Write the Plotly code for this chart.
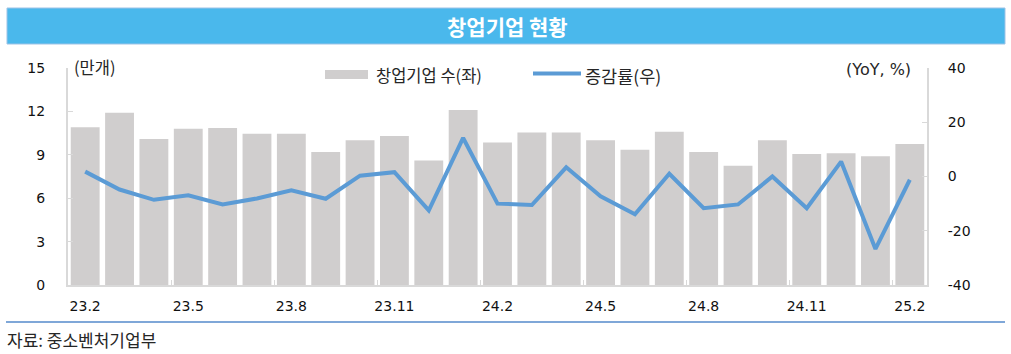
import plotly.graph_objects as go

months = ["23.2", "23.3", "23.4", "23.5", "23.6", "23.7", "23.8", "23.9", "23.10", "23.11", "23.12",
          "24.1", "24.2", "24.3", "24.4", "24.5", "24.6", "24.7", "24.8", "24.9", "24.10", "24.11", "24.12",
          "25.1", "25.2"]
startups = [10.9, 11.9, 10.1, 10.8, 10.85, 10.45, 10.45, 9.2, 10.0, 10.3, 8.6,
            12.1, 9.85, 10.55, 10.55, 10.0, 9.35, 10.6, 9.2, 8.25, 10.0, 9.05, 9.1,
            8.9, 9.75]
yoy = [1.8, -4.8, -8.6, -6.9, -10.3, -8.1, -5.1, -8.2, 0.3, 1.6, -12.5,
       14.2, -10.0, -10.5, 3.4, -7.3, -13.9, 1.0, -11.7, -10.3, 0.0, -11.7, 5.5,
       -26.7, -1.2]
tick_labels = ["23.2", "23.5", "23.8", "23.11", "24.2", "24.5", "24.8", "24.11", "25.2"]
left_ticks = [0, 3, 6, 9, 12, 15]
right_ticks = [-40, -20, 0, 20, 40]
right_tick_text = ["-40", "-20", "0", "20", "40"]

W, H = 1011, 354
L, R, T, B = 68, 927, 68, 285


def px(x):
    return (x - L) / (R - L)


def py(y):
    return (B - y) / (B - T)


xpos = list(range(len(months)))
tickvals = [months.index(t) for t in tick_labels]
minor_vals = [v - 0.5 for v in tickvals[1:]]

BAR = "#D0CECE"
LINE = "#5B9BD5"
AX = "#D9D9D9"
TXT = "#262626"
KR = "Noto Sans CJK KR"
NUM = "DejaVu Sans"
tickfont = dict(family=NUM, size=14, color="#111111")

fig = go.Figure()
fig.add_trace(go.Bar(x=xpos, y=startups, marker=dict(color=BAR, line=dict(width=0)),
                     name="창업기업 수(좌)", yaxis="y", showlegend=False))
fig.add_trace(go.Scatter(x=xpos, y=yoy, mode="lines", line=dict(color=LINE, width=4),
                         name="증감률(우)", yaxis="y2", showlegend=False))

fig.update_layout(
    width=W, height=H, autosize=False,
    margin=dict(l=L, r=W - R, t=T, b=H - B, pad=0),
    paper_bgcolor="white", plot_bgcolor="white",
    bargap=0.16,
    xaxis=dict(range=[-0.5, len(months) - 0.5], tickmode="array", tickvals=tickvals, ticktext=tick_labels,
               showline=True, linecolor=AX, linewidth=2, ticks="", showgrid=False, zeroline=False,
               tickfont=tickfont, ticklabelstandoff=7,
               minor=dict(tickmode="array", tickvals=minor_vals, ticks="inside", ticklen=5,
                          tickcolor=AX, tickwidth=1, showgrid=False)),
    yaxis=dict(range=[0, 15], tickmode="array", tickvals=left_ticks, showline=True, linecolor=AX,
               linewidth=2, ticks="inside", ticklen=5, tickcolor=AX, showgrid=False, zeroline=False,
               tickfont=tickfont, ticklabelstandoff=18),
    yaxis2=dict(range=[-40, 40], tickmode="array", tickvals=right_ticks, ticktext=right_tick_text,
                overlaying="y", side="right",
                showline=True, linecolor=AX, linewidth=2, ticks="inside", ticklen=5, tickcolor=AX,
                showgrid=False, zeroline=False,
                tickfont=tickfont, ticklabelstandoff=16),
    showlegend=False,
)

shapes = [
    # title banner
    dict(type="rect", xref="paper", yref="paper", x0=px(7), x1=px(1005), y0=py(44), y1=py(8),
         fillcolor="#4AB8EC", line=dict(color="#9DC3E6", width=1), layer="above"),
    # bottom separator
    dict(type="line", xref="paper", yref="paper", x0=px(6), x1=px(1005), y0=py(322), y1=py(322),
         line=dict(color="#7FA7D8", width=2)),
    # legend symbols
    dict(type="rect", xref="paper", yref="paper", x0=px(325), x1=px(368), y0=py(79), y1=py(70),
         fillcolor=BAR, line=dict(width=0)),
    dict(type="line", xref="paper", yref="paper", x0=px(533), x1=px(581), y0=py(73.5), y1=py(73.5),
         line=dict(color=LINE, width=4)),
]
fig.update_layout(shapes=shapes)

ann = [
    dict(text="<b>창업기업 현황</b>", x=px(507), y=py(26), xref="paper", yref="paper", showarrow=False,
         font=dict(family=KR, size=21, color="white"), xanchor="center", yanchor="middle"),
    dict(text="창업기업 수(좌)", x=px(374), y=py(75), xref="paper", yref="paper", showarrow=False,
         font=dict(family=KR, size=16.5, color=TXT), xanchor="left", yanchor="middle"),
    dict(text="증감률(우)", x=px(583), y=py(75), xref="paper", yref="paper", showarrow=False,
         font=dict(family=KR, size=17.5, color=TXT), xanchor="left", yanchor="middle"),
    dict(text="(만개)", x=px(72), y=py(67), xref="paper", yref="paper", showarrow=False,
         font=dict(family=KR, size=16.5, color=TXT), xanchor="left", yanchor="middle"),
    dict(text="(YoY, %)", x=px(913), y=py(69), xref="paper", yref="paper", showarrow=False,
         font=dict(family=NUM, size=16, color=TXT), xanchor="right", yanchor="middle"),
    dict(text="자료: 중소벤처기업부", x=px(5), y=py(339), xref="paper", yref="paper", showarrow=False,
         font=dict(family=KR, size=17, color=TXT), xanchor="left", yanchor="middle"),
]
fig.update_layout(annotations=ann)

fig.write_html("out.html")
